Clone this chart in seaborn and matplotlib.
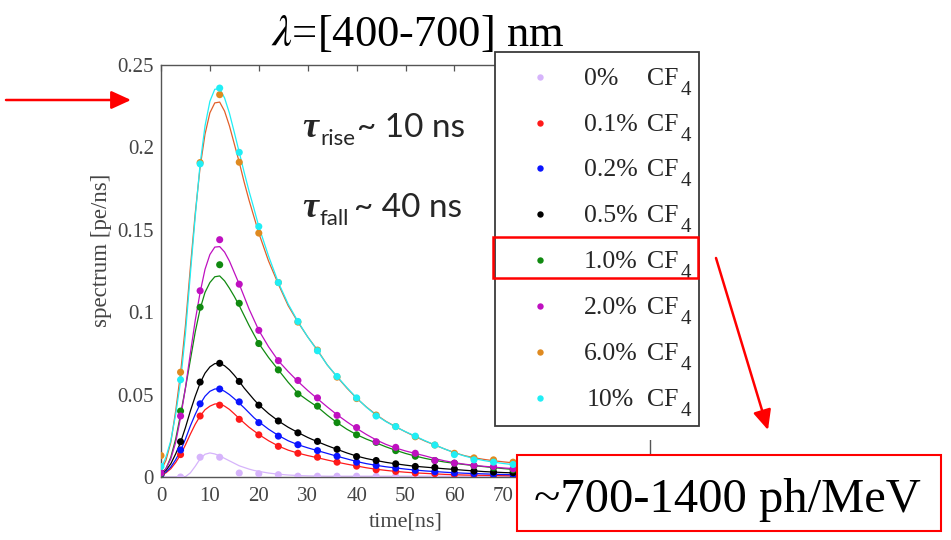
import numpy as np
import pandas as pd
import matplotlib
matplotlib.use("Agg")
import matplotlib.pyplot as plt
import seaborn as sns
from matplotlib.patches import Rectangle, FancyArrowPatch
from matplotlib.lines import Line2D

# ---------------- data ----------------
series = ["0%", "0.1%", "0.2%", "0.5%", "1.0%", "2.0%", "6.0%", "10%"]
point_colors = ["#d6b4fb", "#ff1a1a", "#0a14ff", "#000000", "#108a10", "#bf10c0", "#df8a20", "#20eef5"]
line_colors = ["#d6b4fb", "#ff1a1a", "#0a14ff", "#000000", "#108a10", "#bf10c0", "#e2602a", "#20eef5"]

t_points = [0, 4, 8, 12, 16, 20, 24, 28, 32, 36, 40, 44, 48, 52, 56, 60, 64, 68, 72]
p_0 = [0, 0, 0.012, 0.012, 0.0024, 0.002, 0.0014, 0.0005, 0.0005, 0.0005, 0.0005, 0.0005, 0.0005, 0.0005, 0.0005, 0.0005, 0.0005, 0.0005, 0.0005]
p_01 = [0.0014, 0.0136, 0.037, 0.0436, 0.035, 0.0256, 0.0186, 0.0144, 0.012, 0.009, 0.0066, 0.0044, 0.0034, 0.0024, 0.002, 0.0014, 0.001, 0.0008, 0.0006]
p_02 = [0.0016, 0.0164, 0.0444, 0.0534, 0.0456, 0.033, 0.0248, 0.0196, 0.016, 0.0126, 0.009, 0.007, 0.0054, 0.004, 0.0032, 0.0024, 0.002, 0.0016, 0.0014]
p_05 = [0.0024, 0.0214, 0.0576, 0.069, 0.058, 0.0436, 0.034, 0.0268, 0.0216, 0.0168, 0.0124, 0.01, 0.008, 0.0064, 0.0058, 0.0048, 0.0036, 0.003, 0.0026]
p_10 = [0.002, 0.04, 0.103, 0.1288, 0.1054, 0.081, 0.065, 0.0504, 0.043, 0.033, 0.0256, 0.021, 0.016, 0.0126, 0.01, 0.0084, 0.0068, 0.0056, 0.0044]
p_20 = [0.0024, 0.037, 0.113, 0.144, 0.117, 0.089, 0.0706, 0.0586, 0.048, 0.0374, 0.030, 0.0214, 0.018, 0.0144, 0.01, 0.0084, 0.007, 0.0064, 0.005]
p_60 = [0.013, 0.0636, 0.1908, 0.232, 0.191, 0.148, 0.118, 0.094, 0.077, 0.0606, 0.0476, 0.0376, 0.0306, 0.0244, 0.0194, 0.0144, 0.0116, 0.0104, 0.009]
p_100 = [0.0064, 0.059, 0.19, 0.236, 0.197, 0.152, 0.118, 0.0944, 0.0766, 0.061, 0.048, 0.037, 0.0306, 0.0248, 0.0194, 0.0136, 0.0104, 0.009, 0.0076]

t_fit = [0, 1, 2, 3, 4, 5, 6, 7, 8, 9, 10, 11, 12, 13, 14, 15, 16, 17, 18, 19, 20,
         22, 24, 26, 28, 30, 32, 34, 36, 38, 40, 42, 44, 46, 48, 50, 52, 54, 56, 58,
         60, 62, 64, 66, 68, 70, 72, 74, 76]
f_0 = [0, 0, 0, 0, 0, 0.0002, 0.0025, 0.0065, 0.011, 0.0138, 0.0146, 0.014, 0.0128, 0.0113, 0.0098, 0.0083, 0.0068, 0.0058, 0.0048, 0.004, 0.0034,
       0.0024, 0.0017, 0.0012, 0.0009, 0.0007, 0.0006, 0.0005, 0.0005, 0.0005, 0.0005, 0.0005, 0.0005, 0.0005, 0.0005, 0.0005, 0.0005, 0.0005, 0.0005, 0.0005,
       0.0005, 0.0005, 0.0005, 0.0005, 0.0005, 0.0005, 0.0005, 0.0005, 0.0005]
f_01 = [0.001, 0.0025, 0.005, 0.0088, 0.0135, 0.0195, 0.026, 0.032, 0.037, 0.0408, 0.043, 0.0443, 0.0445, 0.043, 0.041, 0.0383, 0.0355, 0.0328, 0.0302, 0.028, 0.0258,
        0.022, 0.0188, 0.0163, 0.0145, 0.013, 0.0117, 0.0103, 0.009, 0.0078, 0.0067, 0.0056, 0.0047, 0.004, 0.0034, 0.0029, 0.0025, 0.0022, 0.0019, 0.0016,
        0.0014, 0.0012, 0.0011, 0.001, 0.0009, 0.0008, 0.0007, 0.0006, 0.0006]
f_02 = [0.0015, 0.003, 0.006, 0.0105, 0.016, 0.023, 0.031, 0.038, 0.0442, 0.049, 0.052, 0.0534, 0.0535, 0.052, 0.050, 0.0475, 0.0448, 0.042, 0.039, 0.036, 0.0335,
        0.029, 0.0252, 0.022, 0.0196, 0.0177, 0.016, 0.0143, 0.0126, 0.011, 0.0094, 0.0081, 0.0071, 0.0062, 0.0055, 0.0048, 0.0042, 0.0037, 0.0033, 0.0029,
        0.0026, 0.0023, 0.0021, 0.0019, 0.0017, 0.0015, 0.0014, 0.0013, 0.0012]
f_05 = [0.002, 0.004, 0.008, 0.014, 0.021, 0.03, 0.04, 0.049, 0.057, 0.063, 0.0668, 0.0688, 0.069, 0.0675, 0.065, 0.0617, 0.058, 0.054, 0.0505, 0.047, 0.0438,
        0.0385, 0.034, 0.0302, 0.027, 0.024, 0.0214, 0.019, 0.0168, 0.0146, 0.0127, 0.0112, 0.0100, 0.0089, 0.0080, 0.0072, 0.0065, 0.0060, 0.0055, 0.0050,
        0.0046, 0.0041, 0.0037, 0.0033, 0.003, 0.0027, 0.0025, 0.0023, 0.0021]
f_10 = [0.002, 0.005, 0.012, 0.023, 0.038, 0.054, 0.071, 0.088, 0.102, 0.112, 0.118, 0.1215, 0.122, 0.119, 0.1145, 0.1095, 0.104, 0.098, 0.092, 0.0865, 0.081,
        0.0725, 0.065, 0.0575, 0.0508, 0.0465, 0.0425, 0.0375, 0.033, 0.029, 0.0257, 0.023, 0.0207, 0.0183, 0.0162, 0.0143, 0.0127, 0.0113, 0.0101, 0.0091,
        0.0083, 0.0076, 0.0069, 0.0063, 0.0057, 0.0051, 0.0046, 0.0042, 0.0038]
f_20 = [0.002, 0.005, 0.011, 0.021, 0.036, 0.054, 0.075, 0.095, 0.112, 0.126, 0.135, 0.1395, 0.1398, 0.1365, 0.131, 0.124, 0.117, 0.1095, 0.102, 0.0955, 0.089,
        0.079, 0.0705, 0.064, 0.058, 0.0525, 0.0475, 0.0425, 0.0378, 0.0335, 0.0295, 0.0258, 0.0225, 0.0198, 0.0176, 0.0158, 0.0143, 0.0128, 0.0112, 0.0098,
        0.0087, 0.0078, 0.0071, 0.0065, 0.006, 0.0055, 0.0051, 0.0048, 0.0045]
f_60 = [0.004, 0.01, 0.021, 0.04, 0.063, 0.092, 0.127, 0.16, 0.188, 0.208, 0.221, 0.227, 0.2275, 0.222, 0.213, 0.202, 0.191, 0.179, 0.168, 0.158, 0.148,
        0.131, 0.117, 0.104, 0.094, 0.085, 0.077, 0.068, 0.0608, 0.054, 0.0478, 0.0425, 0.0378, 0.0338, 0.0305, 0.0274, 0.0245, 0.0218, 0.0194, 0.017,
        0.0148, 0.013, 0.0117, 0.0107, 0.0099, 0.0092, 0.0086, 0.0081, 0.0077]
f_100 = [0.005, 0.012, 0.022, 0.038, 0.058, 0.087, 0.123, 0.158, 0.19, 0.213, 0.228, 0.2353, 0.2355, 0.230, 0.2207, 0.209, 0.197, 0.185, 0.1735, 0.163, 0.152,
         0.134, 0.118, 0.105, 0.0944, 0.085, 0.0766, 0.068, 0.061, 0.0543, 0.048, 0.0423, 0.0375, 0.0336, 0.0304, 0.0275, 0.0248, 0.022, 0.0195, 0.017,
         0.0147, 0.0128, 0.0112, 0.0100, 0.009, 0.0082, 0.0075, 0.007, 0.0065]

x_ticks = [0, 10, 20, 30, 40, 50, 60, 70, 80, 90, 100]
x_tick_labels = ["0", "10", "20", "30", "40", "50", "60", "70", "", "", ""]
y_ticks = [0, 0.05, 0.1, 0.15, 0.2, 0.25]
y_tick_labels = ["0", "0.05", "0.1", "0.15", "0.2", "0.25"]

points = [p_0, p_01, p_02, p_05, p_10, p_20, p_60, p_100]
fits = [f_0, f_01, f_02, f_05, f_10, f_20, f_60, f_100]

df_pts = pd.concat([pd.DataFrame({"t": t_points, "v": v, "s": s}) for s, v in zip(series, points)], ignore_index=True)
df_fit = pd.concat([pd.DataFrame({"t": t_fit, "v": v, "s": s}) for s, v in zip(series, fits)], ignore_index=True)

# ---------------- style ----------------
sns.set_theme(style="white")
plt.rcParams["font.family"] = ["Liberation Serif", "DejaVu Serif"]
plt.rcParams["mathtext.fontset"] = "stix"

W, H = 951, 540
def fx(x):
    return x / W
def fy(y):
    return 1 - y / H

fig = plt.figure(figsize=(W / 100, H / 100), dpi=100, facecolor="white")
ax = fig.add_axes([fx(161), fy(477), (650 - 161) / W, (477 - 65) / H])
ax.set_facecolor("white")

sns.lineplot(data=df_fit, x="t", y="v", hue="s", hue_order=series,
             palette=dict(zip(series, line_colors)), lw=0.9, legend=False,
             estimator=None, ax=ax)
sns.scatterplot(data=df_pts, x="t", y="v", hue="s", hue_order=series,
                palette=dict(zip(series, point_colors)), s=26, edgecolor="none",
                legend=False, ax=ax, zorder=3)

ax.set_xlim(0, 100)
ax.set_ylim(0, 0.25)
ax.set_xticks(x_ticks)
ax.set_xticklabels(x_tick_labels)
ax.set_yticks(y_ticks)
ax.set_yticklabels(y_tick_labels)
ax.tick_params(direction="in", length=4, width=0.9, colors="#555555",
               labelcolor="#444444", labelsize=15, top=True, right=True)
ax.tick_params(axis="x", pad=7)
ax.tick_params(axis="y", pad=5)
for sp in ax.spines.values():
    sp.set_color("#555555")
    sp.set_linewidth(1.0)
ax.set_xlabel("time[ns]", fontsize=16, color="#444444")
ax.set_ylabel("spectrum [pe/ns]", fontsize=16.5, color="#444444")
ax.xaxis.set_label_coords(0.5, -0.085)
ax.yaxis.set_label_coords(-0.10, 0.55)
ax.grid(False)

# ---------------- title ----------------
fig.text(fx(418), fy(46), r"$\lambda$=[400-700] nm", fontsize=32, ha="center",
         va="baseline", color="black")

# ---------------- tau annotations ----------------
tau_font = ["Liberation Serif", "DejaVu Serif"]
sans = ["Lato", "DejaVu Sans"]
fig.text(fx(302), fy(137), "τ", fontsize=26, family=tau_font, fontweight="bold",
         fontstyle="italic", va="baseline", ha="left")
fig.text(fx(320), fy(145), "rise", fontsize=16, family=sans, va="baseline", ha="left")
fig.text(fx(357), fy(137), "~ 10 ns", fontsize=24, family=sans, va="baseline", ha="left")
fig.text(fx(302), fy(217), "τ", fontsize=26, family=tau_font, fontweight="bold",
         fontstyle="italic", va="baseline", ha="left")
fig.text(fx(320), fy(225), "fall", fontsize=16, family=sans, va="baseline", ha="left")
fig.text(fx(354), fy(217), "~ 40 ns", fontsize=24, family=sans, va="baseline", ha="left")

# ---------------- legend box ----------------
fig.add_artist(Rectangle((fx(495), fy(440)), (699 - 495) / W, (440 - 426) / H,
                         transform=fig.transFigure, facecolor="white",
                         edgecolor="none", zorder=4))
fig.add_artist(Rectangle((fx(495), fy(426)), (699 - 495) / W, (426 - 52) / H,
                         transform=fig.transFigure, facecolor="white",
                         edgecolor="#3a3a3a", lw=1.3, zorder=5))
row_y = [77, 123, 168, 214, 260, 306, 352, 398]
for lab, col, yy in zip(series, point_colors, row_y):
    fig.add_artist(Line2D([fx(540)], [fy(yy)], marker="o", ms=4.6, color=col,
                          mec="none", transform=fig.transFigure, zorder=6))
    x0 = 587 if lab == "10%" else 584
    fig.text(fx(x0), fy(yy + 8), lab, fontsize=18.5, color="#262626",
             va="baseline", ha="left", zorder=6)
    fig.text(fx(647), fy(yy + 8), "CF", fontsize=18.5, color="#262626",
             va="baseline", ha="left", zorder=6)
    fig.text(fx(681), fy(yy + 18), "4", fontsize=15, color="#262626",
             va="baseline", ha="left", zorder=6)

fig.add_artist(Rectangle((fx(493), fy(278)), (698 - 493) / W, (278 - 237) / H,
                         transform=fig.transFigure, facecolor="none",
                         edgecolor="red", lw=1.8, zorder=7))

# ---------------- arrows ----------------
fig.add_artist(FancyArrowPatch((fx(6), fy(100)), (fx(131), fy(100)),
                               transform=fig.transFigure, color="red", lw=1.8,
                               arrowstyle="-|>,head_length=12,head_width=5.5",
                               mutation_scale=1, shrinkA=0, shrinkB=0, zorder=10))
fig.add_artist(FancyArrowPatch((fx(716), fy(258)), (fx(768), fy(430)),
                               transform=fig.transFigure, color="red", lw=1.8,
                               arrowstyle="-|>,head_length=12,head_width=5.5",
                               mutation_scale=1, shrinkA=0, shrinkB=0, zorder=10))

# ---------------- big box ----------------
fig.add_artist(Rectangle((fx(517), fy(531)), (941 - 517) / W, (531 - 455) / H,
                         transform=fig.transFigure, facecolor="white",
                         edgecolor="red", lw=1.5, zorder=8))
fig.text(fx(727), fy(512), "~700-1400 ph/MeV", fontsize=35, ha="center",
         va="baseline", color="black", zorder=9)

fig.savefig("out.png", dpi=100, facecolor="white")
